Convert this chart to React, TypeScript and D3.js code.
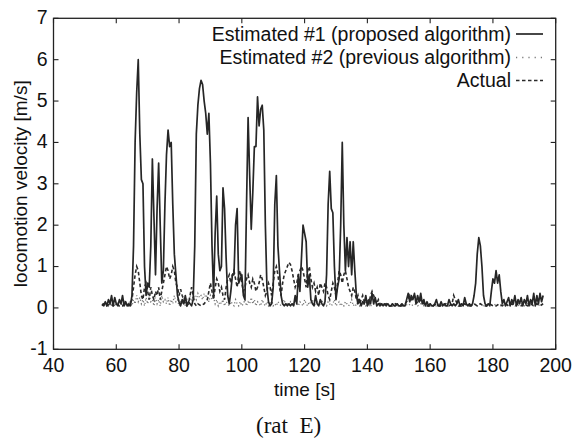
import React from "react";
import * as d3 from "d3";

const xTicks = [40, 60, 80, 100, 120, 140, 160, 180, 200];
const yTicks = [-1, 0, 1, 2, 3, 4, 5, 6, 7];
const legendLabels = [
  "Estimated #1 (proposed algorithm)",
  "Estimated #2 (previous algorithm)",
  "Actual",
];

// Estimated #1 (proposed algorithm): [time s, velocity m/s]
const est1: [number, number][] = [
  [55.5,0.1],[56,0.05],[56.5,0.15],[57,0.05],[57.5,0.2],[58,0.1],[58.5,0.3],[59,0.05],[59.5,0.25],[60,0.1],
  [60.5,0.05],[61,0.2],[61.5,0.1],[62,0.3],[62.5,0.05],[63,0.15],[63.5,0.05],[64,0.1],[64.5,0.05],
  [65,0.3],[65.5,1.5],[66,4.0],[66.5,5.2],[67,6.0],[67.5,4.2],[68,3.1],[68.5,3.0],[69,1.0],[69.5,0.3],
  [70,0.6],[70.5,0.5],[71,1.5],[71.5,3.6],[72,2.2],[72.5,0.8],[73,2.4],[73.5,3.5],[74,2.0],[74.5,0.6],
  [75,0.9],[75.5,2.5],[76,3.7],[76.5,4.3],[77,3.9],[77.5,4.0],[78,2.5],[78.5,1.3],[79,0.8],[79.5,0.3],
  [80,0.15],[80.5,0.05],[81,0.2],[81.5,0.1],[82,0.3],[82.5,0.05],[83,0.15],[83.5,0.1],[84,0.05],[84.5,0.2],
  [85,1.5],[85.5,4.2],[86,4.9],[86.5,5.3],[87,5.5],[87.5,5.4],[88,5.0],[88.5,4.7],[89,4.2],[89.5,4.7],
  [90,3.5],[90.5,1.5],[91,0.3],[91.5,1.8],[92,2.7],[92.5,1.3],[93,0.9],[93.5,1.0],[94,2.9],[94.5,2.4],
  [95,1.2],[95.5,0.3],[96,0.1],[96.5,0.4],[97,0.8],[97.5,0.8],[98,2.0],[98.5,2.4],[99,0.6],[99.5,0.7],
  [100,0.8],[100.5,0.3],[101,0.2],[101.5,2.5],[102,4.6],[102.5,3.2],[103,1.9],[103.5,2.8],[104,3.9],[104.5,3.9],
  [105,5.1],[105.5,4.4],[106,4.8],[106.5,4.9],[107,4.3],[107.5,2.0],[108,0.5],[108.5,0.15],[109,0.05],[109.5,0.1],
  [110,0.5],[110.5,2.5],[111,3.2],[111.5,1.5],[112,0.9],[112.5,0.3],[113,0.1],[113.5,0.05],[114,0.1],[114.5,0.05],
  [115,0.1],[115.5,0.05],[116,0.1],[116.5,0.05],[117,0.3],[117.5,0.1],[118,0.8],[118.5,0.4],[119,1.2],[119.5,2.0],
  [120,1.8],[120.5,1.6],[121,0.5],[121.5,0.8],[122,0.2],[122.5,0.1],[123,0.05],[123.5,0.3],[124,0.1],[124.5,0.05],
  [125,0.2],[125.5,0.1],[126,0.05],[126.5,0.15],[127,0.8],[127.5,2.5],[128,3.3],[128.5,2.4],[129,2.3],[129.5,1.0],
  [130,0.2],[130.5,0.5],[131,0.7],[131.5,2.0],[132,4.0],[132.5,2.0],[133,0.9],[133.5,1.7],[134,1.0],[134.5,1.6],
  [135,0.8],[135.5,1.6],[136,0.9],[136.5,0.3],[137,0.1],[137.5,0.2],[138,0.05],[138.5,0.15],[139,0.1],[139.5,0.3],
  [140,0.05],[140.5,0.2],[141,0.1],[141.5,0.35],[142,0.1],[142.5,0.25],[143,0.05],[143.5,0.1],[144,0.05],[144.5,0.1],
  [145,0.05],[145.5,0.1],[146,0.05],[146.5,0.1],[147,0.05],[147.5,0.05],[148,0.1],[148.5,0.05],[149,0.05],[149.5,0.1],
  [150,0.05],[150.5,0.05],[151,0.1],[151.5,0.05],[152,0.05],[152.5,0.2],[153,0.35],[153.5,0.15],[154,0.3],[154.5,0.2],
  [155,0.35],[155.5,0.1],[156,0.3],[156.5,0.15],[157,0.35],[157.5,0.1],[158,0.2],[158.5,0.05],[159,0.15],[159.5,0.05],
  [160,0.1],[160.5,0.05],[161,0.05],[161.5,0.1],[162,0.2],[162.5,0.05],[163,0.05],[163.5,0.15],[164,0.05],[164.5,0.1],
  [165,0.05],[165.5,0.05],[166,0.2],[166.5,0.1],[167,0.05],[167.5,0.1],[168,0.05],[168.5,0.1],[169,0.2],[169.5,0.05],
  [170,0.1],[170.5,0.05],[171,0.25],[171.5,0.1],[172,0.05],[172.5,0.1],[173,0.05],[173.5,0.1],[174,0.3],[174.5,0.6],
  [175,1.3],[175.5,1.7],[176,1.5],[176.5,1.0],[177,0.3],[177.5,0.1],[178,0.05],[178.5,0.1],[179,0.05],[179.5,0.4],
  [180,0.7],[180.5,0.6],[181,0.9],[181.5,0.6],[182,0.8],[182.5,0.4],[183,0.1],[183.5,0.2],[184,0.05],[184.5,0.15],
  [185,0.25],[185.5,0.05],[186,0.2],[186.5,0.1],[187,0.3],[187.5,0.05],[188,0.2],[188.5,0.1],[189,0.25],[189.5,0.05],
  [190,0.2],[190.5,0.1],[191,0.3],[191.5,0.05],[192,0.2],[192.5,0.1],[193,0.35],[193.5,0.05],[194,0.3],[194.5,0.1],
  [195,0.35],[195.5,0.15],[196,0.3],
];

// Estimated #2 (previous algorithm)
const est2: [number, number][] = [
  [55.5,0.05],[56,0.1],[56.5,0.05],[57,0.15],[57.5,0.05],[58,0.1],[58.5,0.05],[59,0.2],[59.5,0.1],[60,0.05],
  [60.5,0.15],[61,0.05],[61.5,0.1],[62,0.05],[62.5,0.2],[63,0.1],[63.5,0.05],[64,0.15],[64.5,0.1],[65,0.05],
  [65.5,0.2],[66,0.1],[66.5,0.3],[67,0.15],[67.5,0.25],[68,0.1],[68.5,0.2],[69,0.05],[69.5,0.25],[70,0.1],
  [70.5,0.3],[71,0.15],[71.5,0.2],[72,0.05],[72.5,0.25],[73,0.1],[73.5,0.2],[74,0.05],[74.5,0.3],[75,0.15],
  [75.5,0.2],[76,0.1],[76.5,0.25],[77,0.05],[77.5,0.2],[78,0.1],[78.5,0.3],[79,0.15],[79.5,0.2],[80,0.05],
  [80.5,0.15],[81,0.1],[81.5,0.25],[82,0.05],[82.5,0.2],[83,0.1],[83.5,0.3],[84,0.15],[84.5,0.25],[85,0.3],
  [85.5,0.2],[86,0.35],[86.5,0.25],[87,0.3],[87.5,0.2],[88,0.35],[88.5,0.25],[89,0.3],[89.5,0.15],[90,0.3],
  [90.5,0.2],[91,0.25],[91.5,0.1],[92,0.2],[92.5,0.05],[93,0.15],[93.5,0.1],[94,0.2],[94.5,0.05],[95,0.15],
  [95.5,0.1],[96,0.05],[96.5,0.15],[97,0.1],[97.5,0.05],[98,0.2],[98.5,0.1],[99,0.05],[99.5,0.15],[100,0.05],
  [100.5,0.1],[101,0.2],[101.5,0.05],[102,0.15],[102.5,0.1],[103,0.25],[103.5,0.1],[104,0.2],[104.5,0.05],[105,0.15],
  [105.5,0.1],[106,0.05],[106.5,0.2],[107,0.1],[107.5,0.05],[108,0.15],[108.5,0.05],[109,0.1],[109.5,0.2],[110,0.05],
  [110.5,0.1],[111,0.05],[111.5,0.15],[112,0.1],[112.5,0.05],[113,0.1],[113.5,0.2],[114,0.05],[114.5,0.1],[115,0.05],
  [115.5,0.15],[116,0.1],[116.5,0.05],[117,0.2],[117.5,0.1],[118,0.05],[118.5,0.15],[119,0.1],[119.5,0.05],[120,0.2],
  [120.5,0.1],[121,0.05],[121.5,0.15],[122,0.1],[122.5,0.2],[123,0.05],[123.5,0.1],[124,0.15],[124.5,0.05],[125,0.1],
  [125.5,0.2],[126,0.05],[126.5,0.1],[127,0.05],[127.5,0.15],[128,0.1],[128.5,0.05],[129,0.1],[129.5,0.2],[130,0.05],
  [130.5,0.1],[131,0.15],[131.5,0.05],[132,0.1],[132.5,0.05],[133,0.15],[133.5,0.1],[134,0.05],[134.5,0.1],[135,0.2],
  [135.5,0.05],[136,0.1],[136.5,0.05],[137,0.15],[137.5,0.05],[138,0.1],[138.5,0.05],[139,0.1],[139.5,0.05],[140,0.1],
  [141,0.05],[142,0.1],[143,0.05],[144,0.05],[145,0.1],[146,0.05],[147,0.05],[148,0.1],[149,0.05],[150,0.05],
  [151,0.1],[152,0.05],[153,0.1],[154,0.05],[155,0.1],[156,0.05],[157,0.1],[158,0.05],[159,0.05],[160,0.1],
  [161,0.05],[162,0.05],[163,0.1],[164,0.05],[165,0.05],[166,0.1],[167,0.05],[168,0.1],[169,0.05],[170,0.05],
  [171,0.1],[172,0.05],[173,0.05],[174,0.1],[175,0.05],[176,0.1],[177,0.05],[178,0.05],[179,0.1],[180,0.05],
  [181,0.1],[182,0.05],[183,0.05],[184,0.1],[185,0.05],[186,0.1],[187,0.05],[188,0.05],[189,0.1],[190,0.05],
  [191,0.1],[192,0.05],[193,0.05],[194,0.1],[195,0.05],[196,0.1],
];

// Actual
const actual: [number, number][] = [
  [55.5,0.05],[56,0.1],[57,0.05],[58,0.1],[59,0.05],[60,0.1],[61,0.05],[62,0.05],[63,0.1],[64,0.05],
  [65,0.2],[65.5,0.5],[66,0.8],[66.5,1.0],[67,0.9],[67.5,0.6],[68,0.3],[68.5,0.2],[69,0.5],[69.5,0.6],
  [70,0.4],[70.5,0.2],[71,0.5],[71.5,0.3],[72,0.2],[72.5,0.4],[73,0.3],[73.5,0.5],[74,0.2],[74.5,0.4],
  [75,0.6],[75.5,0.8],[76,1.0],[76.5,0.9],[77,0.7],[77.5,0.8],[78,1.0],[78.5,0.9],[79,0.6],[79.5,0.5],
  [80,0.3],[80.5,0.45],[81,0.3],[81.5,0.2],[82,0.1],[82.5,0.05],[83,0.1],[83.5,0.3],[84,0.5],[84.5,0.3],
  [85,0.1],[85.5,0.05],[86,0.1],[87,0.05],[88,0.1],[89,0.2],[89.5,0.4],[90,0.6],[90.5,0.4],[91,0.2],
  [91.5,0.5],[92,0.7],[92.5,0.6],[93,0.4],[93.5,0.5],[94,0.3],[94.5,0.2],[95,0.5],[95.5,0.7],[96,0.8],
  [96.5,0.6],[97,0.8],[97.5,0.9],[98,0.7],[98.5,0.5],[99,0.8],[99.5,0.9],[100,0.6],[100.5,0.4],[101,0.5],
  [101.5,0.7],[102,0.8],[102.5,0.6],[103,0.5],[103.5,0.7],[104,0.6],[104.5,0.4],[105,0.5],[105.5,0.6],[106,0.8],
  [106.5,0.7],[107,0.5],[107.5,0.3],[108,0.4],[108.5,0.6],[109,0.5],[109.5,0.3],[110,0.6],[110.5,0.9],[111,1.0],
  [111.5,0.8],[112,0.5],[112.5,0.3],[113,0.6],[113.5,0.8],[114,0.9],[114.5,1.0],[115,1.1],[115.5,1.05],[116,0.9],
  [116.5,0.7],[117,0.5],[117.5,0.6],[118,0.8],[118.5,0.9],[119,1.0],[119.5,0.9],[120,0.7],[120.5,0.5],[121,0.9],
  [121.5,1.0],[122,0.7],[122.5,0.5],[123,0.6],[123.5,0.4],[124,0.5],[124.5,0.3],[125,0.6],[125.5,0.5],[126,0.4],
  [126.5,0.6],[127,0.5],[127.5,0.3],[128,0.2],[128.5,0.4],[129,0.6],[129.5,0.5],[130,0.3],[130.5,0.6],[131,0.9],
  [131.5,0.8],[132,0.6],[132.5,0.8],[133,0.9],[133.5,0.7],[134,0.5],[134.5,0.4],[135,0.3],[135.5,0.5],[136,0.4],
  [136.5,0.2],[137,0.3],[137.5,0.1],[138,0.2],[138.5,0.3],[139,0.15],[139.5,0.1],[140,0.2],[140.5,0.1],[141,0.3],
  [141.5,0.4],[142,0.3],[142.5,0.2],[143,0.1],[143.5,0.2],[144,0.1],[145,0.05],[146,0.1],[147,0.05],[148,0.05],
  [149,0.1],[150,0.05],[151,0.05],[152,0.1],[153,0.2],[153.5,0.3],[154,0.2],[155,0.3],[155.5,0.2],[156,0.1],
  [157,0.2],[158,0.1],[159,0.05],[160,0.05],[161,0.05],[162,0.1],[163,0.05],[164,0.05],[165,0.1],[166,0.05],
  [167,0.1],[167.5,0.3],[168,0.2],[169,0.05],[170,0.05],[171,0.1],[172,0.05],[173,0.05],[174,0.1],[175,0.05],
  [176,0.1],[177,0.05],[178,0.05],[179,0.1],[180,0.05],[181,0.05],[182,0.1],[183,0.05],[184,0.1],[185,0.05],
  [186,0.1],[187,0.05],[188,0.1],[189,0.05],[190,0.1],[191,0.05],[192,0.1],[193,0.05],[194,0.1],[195,0.05],
  [196,0.1],
];

const SANS = "'Liberation Sans', Arial, Helvetica, sans-serif";
const SERIF = "'Liberation Serif', 'Times New Roman', serif";

export default function App() {
  const W = 576;
  const H = 443;
  const L = 53.5, R = 555.7, T = 18.3, B = 349.3;
  const x = d3.scaleLinear().domain([40, 200]).range([L, R]);
  const y = d3.scaleLinear().domain([-1, 7]).range([B, T]);
  const line = d3
    .line<[number, number]>()
    .x((d) => x(d[0]))
    .y((d) => y(d[1]));

  const ink = "#222";
  const tickLen = 5;
  const fs = 19.5;

  const styles = [
    { stroke: "#262626", width: 1.7, dash: undefined as string | undefined },
    { stroke: "#777", width: 1.3, dash: "1.2,2.2" },
    { stroke: "#2a2a2a", width: 1.6, dash: "3.5,2.5" },
  ];
  const legendY = [34, 57.5, 80.5];

  return (
    <svg
      width={W}
      height={H}
      viewBox={`0 0 ${W} ${H}`}
      style={{ position: "absolute", left: 0, top: 0, background: "#fff" }}
    >
      <rect x={0} y={0} width={W} height={H} fill="#fff" />
      {/* data */}
      <path d={line(est2) || ""} fill="none" stroke={styles[1].stroke} strokeWidth={styles[1].width} strokeDasharray={styles[1].dash} />
      <path d={line(actual) || ""} fill="none" stroke={styles[2].stroke} strokeWidth={styles[2].width} strokeDasharray={styles[2].dash} />
      <path d={line(est1) || ""} fill="none" stroke={styles[0].stroke} strokeWidth={styles[0].width} strokeLinejoin="round" />

      {/* frame */}
      <rect x={L} y={T} width={R - L} height={B - T} fill="none" stroke={ink} strokeWidth={1.3} />

      {/* x ticks */}
      {xTicks.map((t) => (
        <g key={"x" + t}>
          <line x1={x(t)} x2={x(t)} y1={B} y2={B - tickLen} stroke={ink} strokeWidth={1.1} />
          <line x1={x(t)} x2={x(t)} y1={T} y2={T + tickLen} stroke={ink} strokeWidth={1.1} />
          <text x={x(t)} y={B + 23} textAnchor="middle" fontFamily={SANS} fontSize={fs} fill="#111">
            {t}
          </text>
        </g>
      ))}
      {/* y ticks */}
      {yTicks.map((t) => (
        <g key={"y" + t}>
          <line x1={L} x2={L + tickLen} y1={y(t)} y2={y(t)} stroke={ink} strokeWidth={1.1} />
          <line x1={R} x2={R - tickLen} y1={y(t)} y2={y(t)} stroke={ink} strokeWidth={1.1} />
          <text x={L - 6} y={y(t)} dy="0.3em" textAnchor="end" fontFamily={SANS} fontSize={fs} fill="#111">
            {t}
          </text>
        </g>
      ))}

      {/* axis titles */}
      <text x={(L + R) / 2} y={396} textAnchor="middle" fontFamily={SANS} fontSize={19} fill="#111">
        time [s]
      </text>
      <text
        transform={`translate(27,${(T + B) / 2}) rotate(-90)`}
        textAnchor="middle"
        fontFamily={SANS}
        fontSize={19}
        fill="#111"
      >
        locomotion velocity [m/s]
      </text>
      <text x={(L + R) / 2 - 16} y={433} textAnchor="middle" fontFamily={SERIF} fontSize={23} fill="#111" style={{ whiteSpace: "pre" }}>
        {"(rat  E)"}
      </text>

      {/* legend */}
      {legendLabels.map((lab, i) => (
        <g key={lab}>
          <text x={511} y={legendY[i]} dy="0.35em" textAnchor="end" fontFamily={SANS} fontSize={fs} fill="#111">
            {lab}
          </text>
          <line
            x1={516}
            x2={543}
            y1={legendY[i]}
            y2={legendY[i]}
            stroke={styles[i].stroke}
            strokeWidth={styles[i].width}
            strokeDasharray={i === 1 ? "1.2,5" : styles[i].dash}
          />
        </g>
      ))}
    </svg>
  );
}
